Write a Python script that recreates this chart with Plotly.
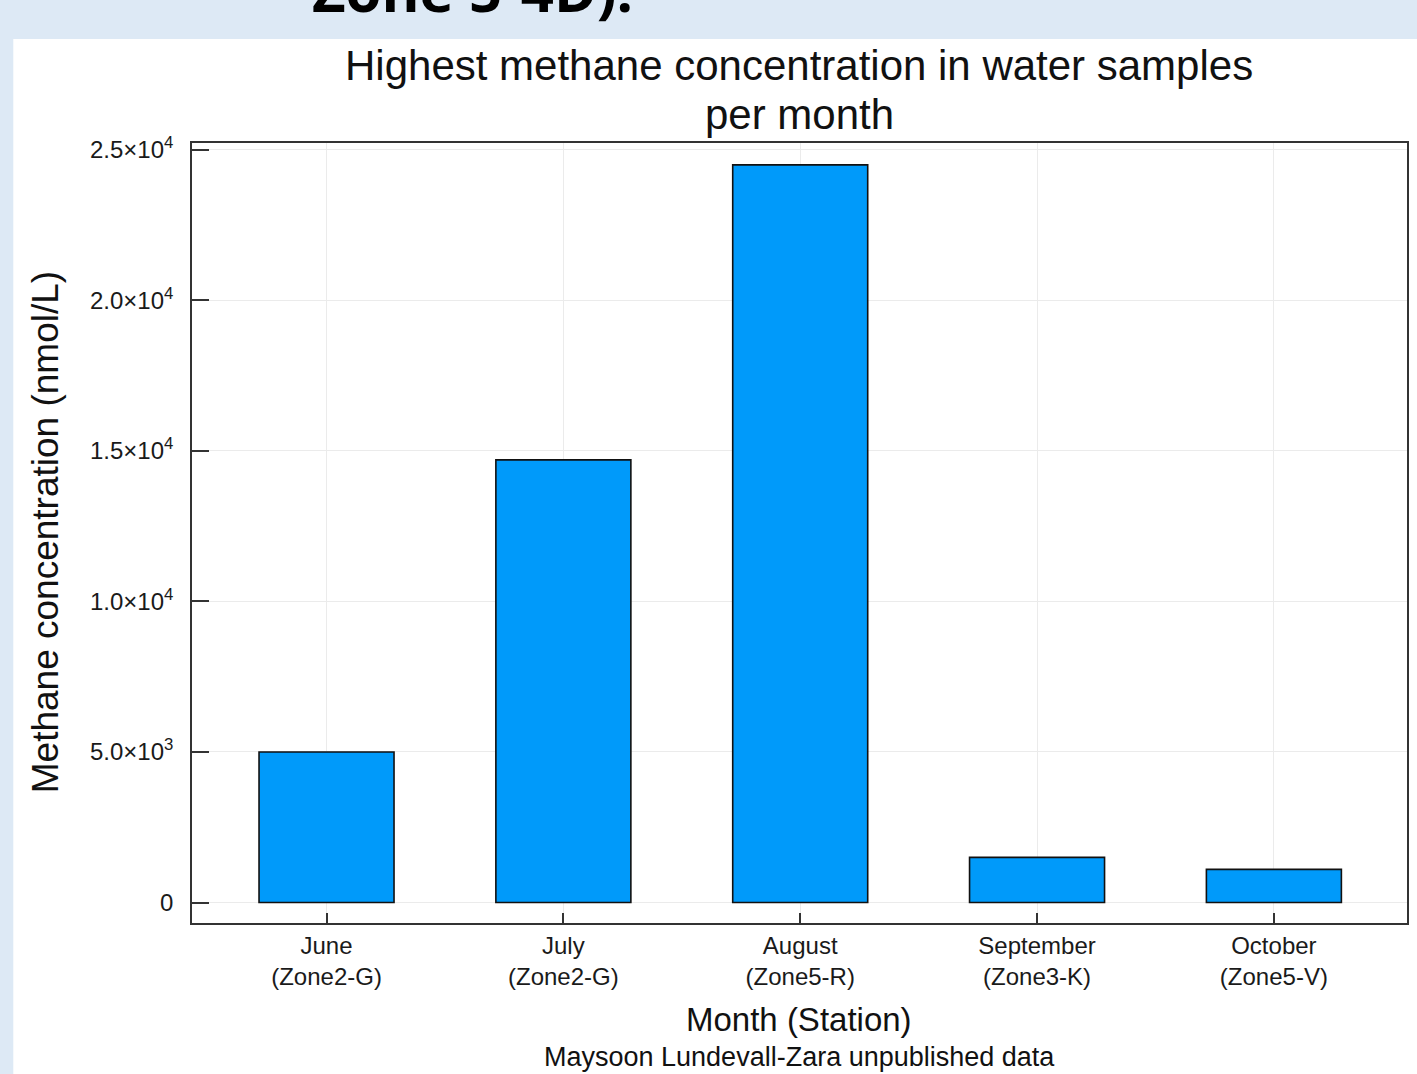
import plotly.graph_objects as go

# Highest methane concentration per month, with the sampling station
months = ["June", "July", "August", "September", "October"]
stations = ["Zone2-G", "Zone2-G", "Zone5-R", "Zone3-K", "Zone5-V"]
max_methane = [5000, 14700, 24500, 1500, 1100]

y_tick_vals = [0, 5000, 10000, 15000, 20000, 25000]
y_tick_text = ["0", "5.0×10<sup>3</sup>", "1.0×10<sup>4</sup>",
               "1.5×10<sup>4</sup>", "2.0×10<sup>4</sup>", "2.5×10<sup>4</sup>"]

title_lines = ["Highest methane concentration in water samples", "per month"]

categories = [f"{m}<br>({s})" for m, s in zip(months, stations)]

W, H = 1417, 1074
L, R, T, B = 192, 8, 143, 151
plot_w = W - L - R
plot_h = H - T - B

FONT = "Liberation Sans, Arial, sans-serif"


def px_x(px):
    return (px - L) / plot_w


def px_y(py):
    return 1 - (py - T) / plot_h


fig = go.Figure()
fig.add_trace(go.Bar(
    x=categories,
    y=max_methane,
    width=0.57,
    marker=dict(color="#009AFA", line=dict(color="#111111", width=1.6)),
    showlegend=False,
))

axis_font = dict(family=FONT, size=24, color="#1a1a1a")

fig.update_xaxes(
    type="category",
    range=[-0.568, 4.562],
    showline=True, mirror=True, linecolor="#333333", linewidth=1.6,
    ticks="inside", ticklen=10, tickwidth=1.5, tickcolor="#333333",
    showgrid=True, gridcolor="#ebebeb", gridwidth=1,
    tickfont=axis_font,
    ticklabelstandoff=0,
)
fig.update_yaxes(
    range=[-680, 25225],
    tickvals=y_tick_vals, ticktext=y_tick_text,
    showline=True, mirror=True, linecolor="#333333", linewidth=1.6,
    ticks="inside", ticklen=17, tickwidth=1.5, tickcolor="#333333",
    showgrid=True, gridcolor="#ebebeb", gridwidth=1,
    zeroline=False,
    tickfont=axis_font,
    ticklabelstandoff=12,
)

annotations = [
    # partially visible slide heading above the chart panel
    dict(text="<b>Zone 5-4D).</b>", x=px_x(310), y=px_y(31),
         xref="paper", yref="paper", xanchor="left", yanchor="bottom",
         showarrow=False,
         font=dict(family="Open Sans, sans-serif", size=58, color="#000000")),
    # chart title, one annotation per line
    dict(text=title_lines[0], x=px_x(800), y=px_y(66),
         xref="paper", yref="paper", xanchor="center", yanchor="middle",
         showarrow=False, font=dict(family=FONT, size=42, color="#111111")),
    dict(text=title_lines[1], x=px_x(800), y=px_y(115),
         xref="paper", yref="paper", xanchor="center", yanchor="middle",
         showarrow=False, font=dict(family=FONT, size=42, color="#111111")),
    dict(text="Methane concentration (nmol/L)", x=px_x(45), y=px_y(532),
         xref="paper", yref="paper", xanchor="center", yanchor="middle",
         textangle=-90, showarrow=False,
         font=dict(family=FONT, size=37, color="#111111")),
    dict(text="Month (Station)", x=px_x(800), y=px_y(1019),
         xref="paper", yref="paper", xanchor="center", yanchor="middle",
         showarrow=False,
         font=dict(family=FONT, size=33, color="#111111")),
    dict(text="Maysoon Lundevall-Zara unpublished data", x=px_x(800), y=px_y(1057),
         xref="paper", yref="paper", xanchor="center", yanchor="middle",
         showarrow=False,
         font=dict(family=FONT, size=27, color="#111111")),
]

fig.update_layout(
    width=W, height=H,
    margin=dict(l=L, r=R, t=T, b=B, pad=0),
    paper_bgcolor="#DDE9F5",
    plot_bgcolor="#FFFFFF",
    shapes=[
        # white content panel
        dict(type="rect", xref="paper", yref="paper", layer="below",
             x0=px_x(13), x1=px_x(W + 20), y0=px_y(H + 20), y1=px_y(39),
             fillcolor="#FFFFFF", line=dict(width=0)),
    ],
    annotations=annotations,
)

fig.write_html("out.html")
